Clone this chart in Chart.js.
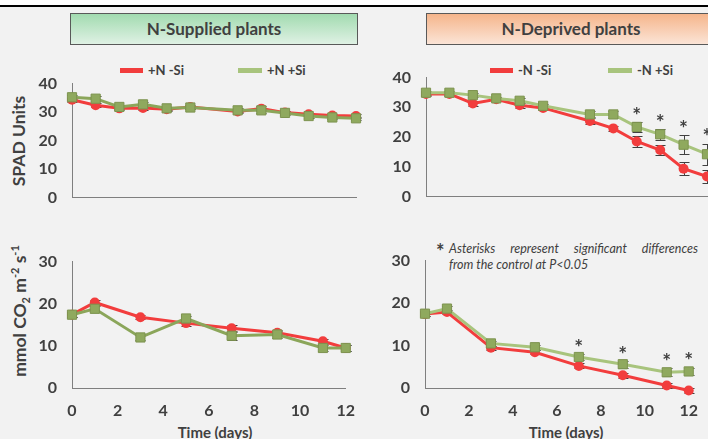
<!DOCTYPE html>
<html>
<head>
<meta charset="utf-8">
<script src="https://cdn.jsdelivr.net/npm/chart.js@4.4.1/dist/chart.umd.min.js"></script>
<style>
  html, body { margin: 0; padding: 0; overflow: hidden; background: #fff; }
  #fig { position: relative; width: 708px; height: 439px; overflow: hidden; background: #f2f2f2;
         font-family: Lato, "DejaVu Sans", sans-serif; color: #404040; }
  #topline { position: absolute; left: 0; top: 0; width: 708px; height: 5px; background: #fff; border-bottom: 2px solid #000; }
  .head { position: absolute; top: 13px; height: 30px; border: 1px solid #595959; font-weight: bold;
          font-size: 17px; line-height: 30px; text-align: center; }
  #head-sup { left: 70px; width: 286px; background: linear-gradient(to bottom, #a2dbb0, #dff1e4); }
  #head-dep { left: 426px; width: 288px; background: linear-gradient(to bottom, #f5b58b, #fbe4d6); }
  .ytitle { position: absolute; transform: translate(-50%, -50%) rotate(-90deg); white-space: nowrap;
            font-weight: bold; font-size: 17.5px; }
  .ytitle sub, .ytitle sup { font-size: 11px; line-height: 0; }
  .xtitle { position: absolute; transform: translateX(-50%); white-space: nowrap; font-weight: bold; font-size: 15px; top: 423px; }
  .leg { position: absolute; font-weight: bold; font-size: 13px; line-height: 14px; white-space: nowrap; }
  .sw { position: absolute; height: 5px; }
  #note { position: absolute; left: 449px; top: 241px; width: 249px; font-style: italic; font-size: 12.5px; line-height: 16px; }
  #note .l1 { display: flex; justify-content: space-between; }
  #note-star { position: absolute; left: 436px; top: 241px; font-weight: bold; font-size: 20px; line-height: 20px; }
  canvas { position: absolute; }
</style>
</head>
<body>
<div id="fig">
  <div id="topline"></div>
  <div class="head" id="head-sup">N-Supplied plants</div>
  <div class="head" id="head-dep">N-Deprived plants</div>

  <div class="ytitle" style="left:18px;top:141px;">SPAD Units</div>
  <div class="ytitle" style="left:19px;top:311px;">mmol CO<sub>2</sub> m<sup>-2</sup> s<sup>-1</sup></div>
  <div class="xtitle" style="left:215px;">Time (days)</div>
  <div class="xtitle" style="left:566px;">Time (days)</div>

  <div class="sw" style="left:120px;top:68px;width:23px;background:#f23d3d"></div>
  <div class="leg" style="left:148px;top:63px;">+N -Si</div>
  <div class="sw" style="left:238px;top:68px;width:24px;background:#a8c47d"></div>
  <div class="leg" style="left:267px;top:63px;">+N +Si</div>

  <div class="sw" style="left:490px;top:68px;width:23px;background:#f23d3d"></div>
  <div class="leg" style="left:518px;top:63px;">-N -Si</div>
  <div class="sw" style="left:608px;top:68px;width:24px;background:#a8c47d"></div>
  <div class="leg" style="left:637px;top:63px;">-N +Si</div>

  <div id="note-star">*</div>
  <div id="note">
    <div class="l1"><span>Asterisks</span><span>represent</span><span>significant</span><span>differences</span></div>
    <div>from the control at P&lt;0.05</div>
  </div>

  <canvas id="c-tl"></canvas>
  <canvas id="c-tr"></canvas>
  <canvas id="c-bl"></canvas>
  <canvas id="c-br"></canvas>
</div>

<script>
// ---- data ----
const SPAD_DAYS = [0, 1, 2, 3, 4, 5, 7, 8, 9, 10, 11, 12];
const SPAD_SUP_NOSI = [34.3, 32.4, 31.3, 31.4, 31.0, 31.8, 30.2, 31.2, 29.8, 29.2, 28.8, 28.6];
const SPAD_SUP_SI   = [35.2, 34.7, 31.8, 32.7, 31.3, 31.6, 30.6, 30.6, 29.7, 28.6, 28.1, 27.8];
const SPAD_SUP_NOSI_ERR = [0.6, 0.7, 0.6, 0.6, 0.6, 0.6, 0.7, 0.8, 0.6, 0.6, 0.6, 0.6];
const SPAD_SUP_SI_ERR   = [0.7, 0.9, 0.8, 0.8, 0.6, 0.6, 0.7, 0.8, 0.7, 0.6, 0.6, 0.6];

const SPAD_DEP_NOSI = [34.5, 34.5, 31.3, 32.7, 30.7, 29.8, 25.4, 22.9, 18.5, 15.6, 9.3, 6.7];
const SPAD_DEP_SI   = [34.9, 34.9, 34.1, 33.0, 32.2, 30.5, 27.6, 27.6, 23.4, 20.9, 17.4, 14.2];
const SPAD_DEP_NOSI_ERR = [0.6, 0.6, 0.7, 0.6, 0.8, 0.8, 0.9, 0.9, 1.7, 1.8, 2.2, 2.1];
const SPAD_DEP_SI_ERR   = [0.6, 0.6, 0.7, 0.6, 0.8, 0.7, 1.0, 1.2, 1.6, 1.8, 3.2, 3.6];
const SPAD_DEP_SIG = [9, 10, 11, 12];

const PN_DAYS = [0, 1, 3, 5, 7, 9, 11, 12];
const PN_SUP_NOSI = [17.4, 20.3, 16.8, 15.4, 14.2, 13.1, 11.1, 9.5];
const PN_SUP_SI   = [17.4, 18.8, 12.0, 16.5, 12.4, 12.7, 9.5, 9.5];
const PN_SUP_NOSI_ERR = [0.5, 0.6, 0.5, 0.6, 0.7, 0.6, 0.6, 0.6];
const PN_SUP_SI_ERR   = [0.6, 0.7, 0.6, 0.7, 1.0, 0.8, 0.8, 0.8];

const PN_DEP_NOSI = [17.4, 17.9, 9.5, 8.4, 5.2, 3.0, 0.6, -0.6];
const PN_DEP_SI   = [17.5, 18.7, 10.5, 9.6, 7.3, 5.6, 3.7, 3.9];
const PN_DEP_NOSI_ERR = [0.5, 0.5, 0.5, 0.5, 0.6, 0.6, 0.5, 0.5];
const PN_DEP_SI_ERR   = [0.6, 0.7, 0.6, 0.6, 0.7, 0.8, 0.9, 0.9];
const PN_DEP_SIG = [7, 9, 11, 12];

const RED = '#f23d3d';
const GREEN_DARK = '#8ba65a';
const GREEN_LIGHT = '#a8c47d';
const GREEN_MARK = '#8fa95e';
const TEXT = '#404040';

// error bars under the markers, asterisks above the +Si series
const errorBars = {
  id: 'errorBars',
  beforeDatasetsDraw(chart) {
    const ctx = chart.ctx;
    const ys = chart.scales.y;
    ctx.save();
    ctx.strokeStyle = TEXT;
    ctx.lineWidth = 1;
    chart.data.datasets.forEach((ds, i) => {
      if (!ds.errors) return;
      const meta = chart.getDatasetMeta(i);
      ds.data.forEach((p, j) => {
        const x = Math.round(meta.data[j].x) + 0.5;
        const top = Math.round(ys.getPixelForValue(p.y + ds.errors[j])) + 0.5;
        const bot = Math.round(ys.getPixelForValue(p.y - ds.errors[j])) + 0.5;
        ctx.beginPath();
        ctx.moveTo(x, top); ctx.lineTo(x, bot);
        ctx.moveTo(x - 5, top); ctx.lineTo(x + 5, top);
        ctx.moveTo(x - 5, bot); ctx.lineTo(x + 5, bot);
        ctx.stroke();
      });
    });
    ctx.restore();
  },
  afterDatasetsDraw(chart) {
    const ctx = chart.ctx;
    const ys = chart.scales.y;
    ctx.save();
    ctx.fillStyle = TEXT;
    ctx.font = 'bold 21px Lato, sans-serif';
    ctx.textAlign = 'center';
    ctx.textBaseline = 'middle';
    chart.data.datasets.forEach((ds, i) => {
      if (!ds.sig) return;
      const meta = chart.getDatasetMeta(i);
      ds.sig.forEach(day => {
        const j = ds.data.findIndex(p => p.x === day);
        if (j < 0) return;
        const top = ys.getPixelForValue(ds.data[j].y + ds.errors[j]);
        ctx.fillText('*', meta.data[j].x, top - 6);
      });
    });
    ctx.restore();
  },
};

function series(days, vals, errs, color, isSi, lineColor, sig) {
  return {
    data: days.map((d, i) => ({ x: d, y: vals[i] })),
    errors: errs,
    sig: sig || null,
    borderColor: lineColor || color,
    backgroundColor: color,
    borderWidth: 3,
    pointStyle: isSi ? 'rect' : 'circle',
    pointRadius: isSi ? 6.5 : 5,
    pointBackgroundColor: color,
    pointBorderColor: isSi ? '#7d934f' : color,
    pointBorderWidth: isSi ? 1 : 0,
    order: isSi ? 1 : 2,
    clip: false,
    tension: 0,
  };
}

const Y_W = 50, PAD_T = 12, PAD_R = 12;

// area = chart area in page pixels
function makePanel(id, area, yMax, showX, datasets) {
  const xH = showX ? 40 : 6;
  const canvas = document.getElementById(id);
  const w = Y_W + (area.r - area.l) + PAD_R;
  const h = PAD_T + (area.b - area.t) + xH;
  canvas.style.left = (area.l - Y_W) + 'px';
  canvas.style.top = (area.t - PAD_T) + 'px';
  canvas.style.width = w + 'px';
  canvas.style.height = h + 'px';
  canvas.width = w;
  canvas.height = h;

  return new Chart(canvas, {
    type: 'line',
    data: { datasets },
    plugins: [errorBars],
    options: {
      responsive: false,
      animation: false,
      layout: { padding: { top: PAD_T, right: PAD_R, left: 0, bottom: 0 } },
      plugins: { legend: { display: false }, tooltip: { enabled: false } },
      scales: {
        x: {
          type: 'linear',
          min: 0, max: 12,
          grid: { display: false, drawTicks: false },
          border: { display: true, color: '#7f7f7f', width: 1 },
          ticks: {
            display: showX, stepSize: 2, padding: 13, color: TEXT,
            font: { family: 'Lato', size: 16, weight: 'bold' },
          },
          afterFit: s => { s.height = xH; },
        },
        y: {
          min: 0, max: yMax,
          grid: { display: false, drawTicks: false },
          border: { display: true, color: '#7f7f7f', width: 1 },
          ticks: {
            stepSize: 10, padding: 15, color: TEXT,
            font: { family: 'Lato', size: 16, weight: 'bold' },
          },
          afterFit: s => { s.width = Y_W; },
        },
      },
    },
  });
}

makePanel('c-tl', { l: 72, r: 356, t: 71, b: 216 }, 40, false, [
  series(SPAD_DAYS, SPAD_SUP_NOSI, SPAD_SUP_NOSI_ERR, RED, false),
  series(SPAD_DAYS, SPAD_SUP_SI, SPAD_SUP_SI_ERR, GREEN_MARK, true, GREEN_DARK),
]);

makePanel('c-tr', { l: 426, r: 707, t: 65, b: 215 }, 40, false, [
  series(SPAD_DAYS, SPAD_DEP_NOSI, SPAD_DEP_NOSI_ERR, RED, false),
  series(SPAD_DAYS, SPAD_DEP_SI, SPAD_DEP_SI_ERR, GREEN_MARK, true, GREEN_LIGHT, SPAD_DEP_SIG),
]);

makePanel('c-bl', { l: 72, r: 356, t: 249, b: 388 }, 30, true, [
  series(PN_DAYS, PN_SUP_NOSI, PN_SUP_NOSI_ERR, RED, false),
  series(PN_DAYS, PN_SUP_SI, PN_SUP_SI_ERR, GREEN_MARK, true, GREEN_DARK),
]);

makePanel('c-br', { l: 425, r: 699, t: 248, b: 388 }, 30, true, [
  series(PN_DAYS, PN_DEP_NOSI, PN_DEP_NOSI_ERR, RED, false),
  series(PN_DAYS, PN_DEP_SI, PN_DEP_SI_ERR, GREEN_MARK, true, GREEN_LIGHT, PN_DEP_SIG),
]);
</script>
</body>
</html>
